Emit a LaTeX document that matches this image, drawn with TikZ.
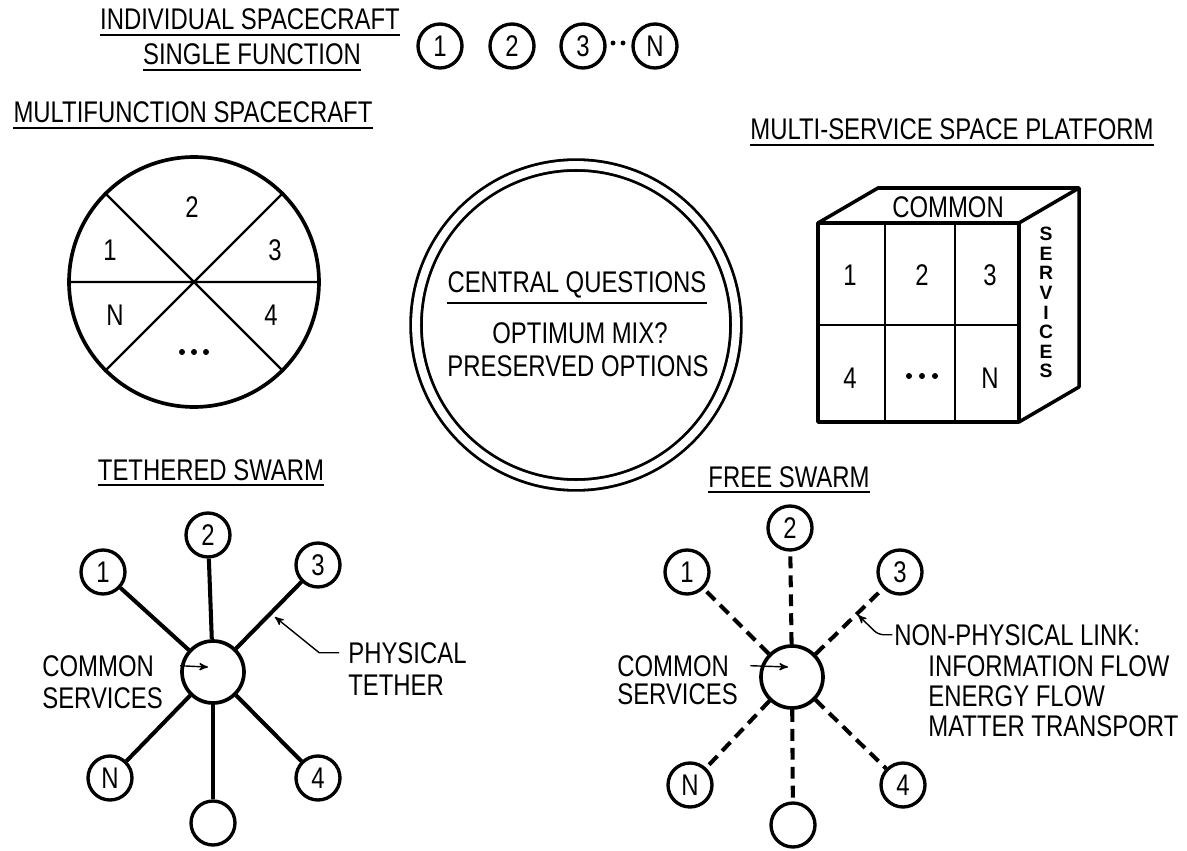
\documentclass[tikz,border=0pt]{standalone}
\usepackage{fontspec}
\setmainfont{Liberation Sans}[FakeStretch=0.8]
\newfontfamily\boxfont{Liberation Sans}
\usepackage{tikz}
\usetikzlibrary{arrows}
\usetikzlibrary{shapes.geometric}
\tikzset{
    txtnode/.style = {inner sep=0pt, font=\fontsize{17}{20}\selectfont},
    head/.style = {txtnode, anchor=base},
    lbl/.style = {txtnode, anchor=base west},
    svc/.style = {inner sep=0pt, font=\boxfont\bfseries\fontsize{11}{13}\selectfont},
    sat_node/.style = {circle, draw=black, line width=1.9pt, minimum size=0.88cm, inner sep=0pt, font=\fontsize{17}{20}\selectfont},
    hub_node/.style = {circle, draw=black, line width=2.1pt, minimum size=1.24cm, inner sep=0pt},
    tether/.style = {line width=2.3pt},
    link/.style = {line width=2.3pt, dash pattern=on 6.8pt off 4pt},
    uline/.style = {line width=1.1pt},
    leader/.style = {line width=0.8pt, ->}
}

\begin{document}
\begin{tikzpicture}
            [x=0.02cm, y=-0.02cm, >=stealth']

            \useasboundingbox (0,0) rectangle (1187,851);

            % single function spacecraft
            \node[head] (ind) at (250,30) {INDIVIDUAL SPACECRAFT};
            \node[head] (sgl) at (252,65) {SINGLE FUNCTION};
            \foreach \n/\x in {1/440, 2/512, 3/583, N/655}
                \node[sat_node] (s\n) at (\x,46) {\n};
            \fill (613,43) circle (1.4pt) (623,43) circle (1.4pt);

            % multifunction spacecraft
            \node[head] (mfs) at (193,123) {MULTIFUNCTION SPACECRAFT};
            \node[circle, draw=black, line width=2.1pt, minimum size=5cm] (pie) at (194,282) {};
            \draw[line width=1.3pt] (pie.west) -- (pie.east) (pie.135) -- (pie.315) (pie.45) -- (pie.225);
            \foreach \lab/\x/\y in {1/110/250, 2/192/207, 3/275/250, N/115/315, 4/271/315}
                \node[txtnode] (p\lab) at (\x,\y) {\lab};
            \foreach \x in {182,194,206}
                \fill (\x,352) circle (1.7pt);

            % central questions
            \node[circle, draw=black, line width=1.6pt, double, double distance=4.5pt, minimum size=6.4cm] (core) at (576,325) {};
            \node[head] (cq) at (577,293) {CENTRAL QUESTIONS};
            \node[head] (mix) at (580,343) {OPTIMUM MIX?};
            \node[head] (pres) at (578,377) {PRESERVED OPTIONS};

            % multi-service platform
            \node[head] (msp) at (952,140) {MULTI-SERVICE SPACE PLATFORM};
            \draw[line width=2pt, line join=round] (818,223) rectangle (1019,422);
            \draw[line width=2pt, line join=round] (818,223) -- (878,188) -- (1079,188) -- (1079,387) -- (1019,422)
                (1019,223) -- (1079,188);
            \draw[line width=1.2pt] (885,223) -- (885,422) (955,223) -- (955,422) (818,325) -- (1019,325);
            \foreach \lab/\x/\y in {1/850/275, 2/922/275, 3/990/275, 4/850/378, N/990/378}
                \node[txtnode] (b\lab) at (\x,\y) {\lab};
            \foreach \x in {909,922,935}
                \fill (\x,376) circle (1.7pt);
            \node[txtnode] (bcom) at (948,207) {COMMON};
            \foreach \c [count=\i from 0] in {S,E,R,V,I,C,E,S}
                \node[svc] (sv\i) at (1046,234+19.6*\i) {\c};

            % tethered swarm
            \node[head] (tsw) at (211,480) {TETHERED SWARM};
            \node[hub_node] (thub) at (213,672) {};
            \foreach \n/\x/\y in {1/103/572, 2/208/535, 3/318/565, N/110/778, 4/318/778}
                \node[sat_node] (t\n) at (\x,\y) {\n};
            \node[sat_node] (t0) at (213,823) {};
            \foreach \n in {1,2,3,N,4,0}
                \draw[tether] (thub) -- (t\n);
            \node[lbl] (tcom) at (42,676) {COMMON};
            \node[lbl] (tsvc) at (42,708) {SERVICES};
            \draw[leader] ([xshift=14.7pt]tcom.east) -- ([xshift=-2.8pt,yshift=2.8pt]thub.center);
            \node[lbl] (phys) at (348,663) {PHYSICAL};
            \node[lbl] (teth) at (348,695) {TETHER};
            \coordinate (tpt) at (275,617);
            \draw[leader] ([xshift=-5pt]phys.west) -- ++(-20,0) -- (tpt);

            % free swarm
            \node[head] (fsw) at (789,487) {FREE SWARM};
            \node[hub_node] (fhub) at (792,677) {};
            \foreach \n/\x/\y in {1/687/572, 2/790/528, 3/900/572, N/690/785, 4/903/785}
                \node[sat_node] (f\n) at (\x,\y) {\n};
            \node[sat_node] (f0) at (793,825) {};
            \foreach \n in {1,2,3,N,4,0}
                \draw[link] (fhub) -- (f\n);
            \node[lbl] (fcom) at (617,676) {COMMON};
            \node[lbl] (fsvc) at (617,704) {SERVICES};
            \draw[leader] ([xshift=12pt]fcom.east) -- ([xshift=-2.3pt,yshift=5.7pt]fhub.center);
            \node[lbl] (nonphys) at (894,645) {NON-PHYSICAL LINK:};
            \node[lbl] (info) at (928,676) {INFORMATION FLOW};
            \node[lbl] (energy) at (928,706) {ENERGY FLOW};
            \node[lbl] (matter) at (928,736) {MATTER TRANSPORT};
            \coordinate (fpt) at (858,615);
            \draw[leader, rounded corners=3pt] ([xshift=-1pt]nonphys.west) -- ++(-14,0) -- (fpt);

            % underlines
            \foreach \h in {ind,sgl,mfs,msp,tsw,fsw}
                \draw[uline] ([yshift=-2.6pt]\h.base west) -- ([yshift=-2.6pt]\h.base east);
            \draw[uline] ([yshift=-5.5pt]cq.base west) -- ([yshift=-5.5pt]cq.base east);
        \end{tikzpicture}
\end{document}
